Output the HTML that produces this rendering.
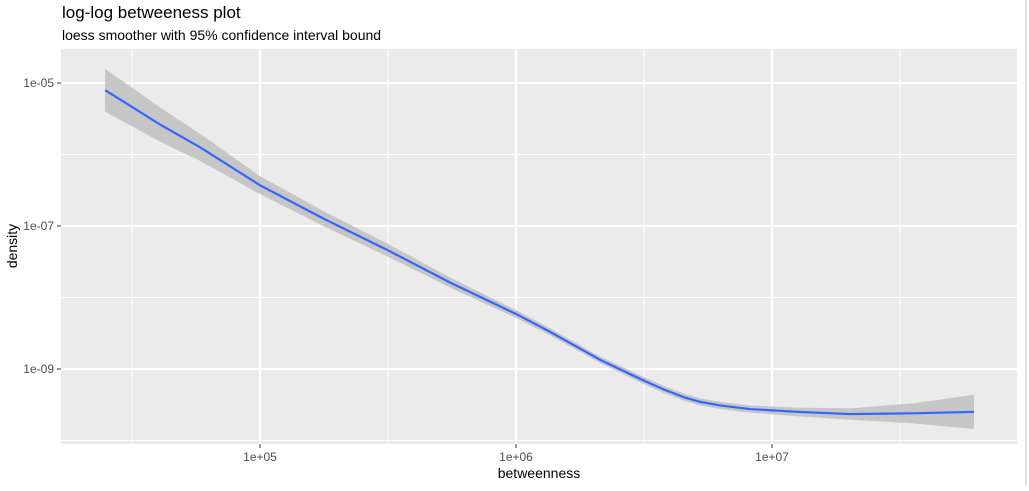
<!DOCTYPE html>
<html><head><meta charset="utf-8"><style>
body{margin:0;background:#fff;font-family:"Liberation Sans",sans-serif;}
</style></head><body>
<svg width="1029" height="486" id="c" font-family="Liberation Sans, sans-serif">
<text x="62" y="18" font-size="17" fill="#000">log-log betweeness plot</text>
<text x="62" y="40" font-size="14" fill="#000">loess smoother with 95% confidence interval bound</text>
<rect x="61" y="49" width="956" height="395" fill="#ebebeb"/>
<g id="grid"></g>
<path id="band" fill="#c6c6c6"/>
<path id="line" fill="none" stroke="#3366ff" stroke-width="2.2" stroke-linejoin="round"/>
<g id="axes"></g>
<text x="539" y="478" font-size="14" text-anchor="middle">betweenness</text>
<text transform="translate(17,246) rotate(-90)" font-size="14" text-anchor="middle">density</text>
<rect x="1025" y="0" width="2" height="486" fill="#e3e3e3"/>
</svg>
<script>
const xLog=[4.395,4.609,4.766,5.0,5.25,5.5,5.742,6.0,6.133,6.328,6.504,6.58,6.66,6.72,6.797,6.914,7.1,7.305,7.55,7.789];
const yFit=[-5.10,-5.58,-5.90,-6.43,-6.90,-7.34,-7.79,-8.23,-8.48,-8.87,-9.17,-9.29,-9.40,-9.46,-9.51,-9.56,-9.60,-9.63,-9.62,-9.60];
const yErr=[0.30,0.24,0.19,0.125,0.105,0.09,0.07,0.055,0.05,0.045,0.05,0.05,0.05,0.05,0.05,0.05,0.06,0.08,0.14,0.24];
const xTicks=[5,6,7];
const xTickLabels=["1e+05","1e+06","1e+07"];
const yTicks=[-5,-7,-9];
const yTickLabels=["1e-05","1e-07","1e-09"];
const xMinor=[4.5,5.5,6.5,7.5];
const yMinor=[-6,-8,-10];
const X=v=>516+(v-6)*256;
const Y=v=>83+(-5-v)*71.5;
const ns="http://www.w3.org/2000/svg";
const grid=document.getElementById('grid'),axes=document.getElementById('axes');
function ln(x1,y1,x2,y2,w,c,p,name){const l=document.createElementNS(ns,'line');
l.setAttribute('x1',x1);l.setAttribute('y1',y1);l.setAttribute('x2',x2);l.setAttribute('y2',y2);
l.setAttribute('stroke',c);l.setAttribute('stroke-width',w);


p.appendChild(l);}
function tx(x,y,s,a,name){const t=document.createElementNS(ns,'text');t.setAttribute('x',x);t.setAttribute('y',y);
t.setAttribute('font-size','12');t.setAttribute('fill','#4d4d4d');t.setAttribute('text-anchor',a);t.textContent=s;


axes.appendChild(t);}
xMinor.forEach(v=>ln(X(v),49,X(v),444,1,'#fff',grid,'x-minor-gridline'));
yMinor.forEach(v=>ln(61,Y(v),1017,Y(v),1,'#fff',grid,'y-minor-gridline'));
xTicks.forEach((v,i)=>{ln(X(v),49,X(v),444,2,'#fff',grid,'x-major-gridline');ln(X(v),444,X(v),448,1,'#333',axes,'x-tick');tx(X(v),461,xTickLabels[i],'middle','x-tick-label');});
yTicks.forEach((v,i)=>{ln(61,Y(v),1017,Y(v),2,'#fff',grid,'y-major-gridline');ln(57,Y(v),61,Y(v),1,'#333',axes,'y-tick');tx(54,Y(v)+4,yTickLabels[i],'end','y-tick-label');});
let up=xLog.map((v,i)=>X(v)+','+Y(yFit[i]+yErr[i]));
let lo=xLog.map((v,i)=>X(v)+','+Y(yFit[i]-yErr[i])).reverse();
document.getElementById('band').setAttribute('d','M'+up.join('L')+'L'+lo.join('L')+'Z');
document.getElementById('line').setAttribute('d','M'+xLog.map((v,i)=>X(v)+','+Y(yFit[i])).join('L'));
</script>
</body></html>
